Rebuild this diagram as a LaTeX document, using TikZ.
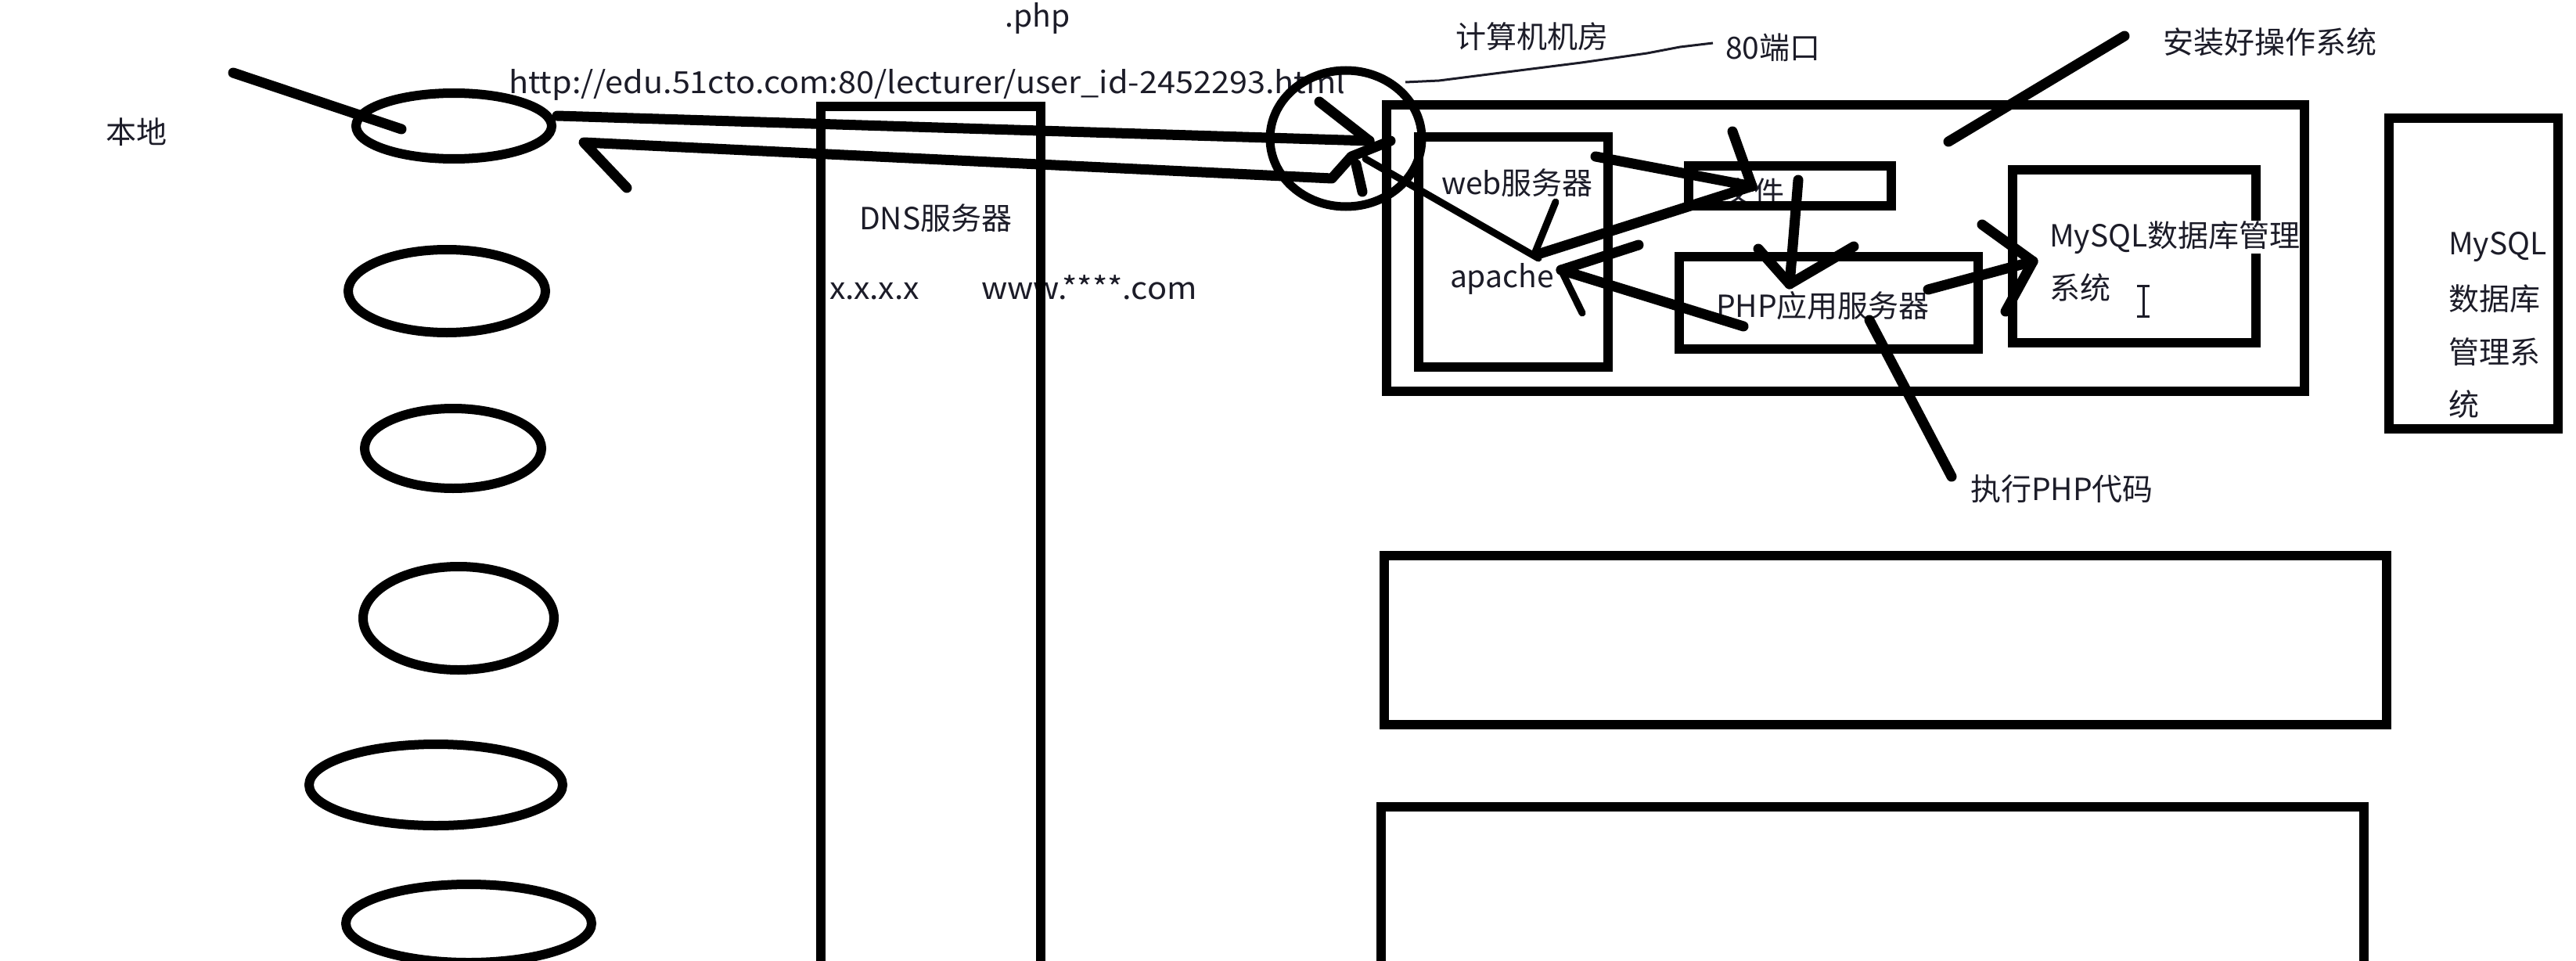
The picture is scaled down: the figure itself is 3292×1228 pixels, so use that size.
\documentclass[tikz,border=0pt]{standalone}
\usepackage{fontspec}
\setmainfont{Noto Sans CJK SC}
\usetikzlibrary{shapes.geometric}
\definecolor{txt}{HTML}{1C1C28}
\begin{document}
\begin{tikzpicture}[x=1pt,y=-1pt,
  box/.style={draw, line width=12pt, rectangle, inner sep=0pt, outer sep=0pt},
  oval/.style={draw, line width=12pt, ellipse, inner sep=0pt, outer sep=0pt},
  stroke/.style={line width=13pt, line cap=round, line join=round},
  slim/.style={line width=9pt, line cap=round, line join=round},
  hair/.style={line width=3pt, color=txt},
  lbl/.style={anchor=base west, inner sep=0pt, outer sep=0pt, font=\fontsize{39}{47}\selectfont, text=txt},
]
\useasboundingbox (0,0) rectangle (3292,1228);
\fill[white] (0,0) rectangle (3292,1228);
\clip (0,0) rectangle (3292,1228);

% ---------- texts ----------
\node[lbl] (tlocal) at (135,183) {本地};
\node[lbl, anchor=base] (tphp) at (1326,35) {.php};
\node[lbl] (turl) at (650,120) {\scalebox{1.062}[1]{http://edu.51cto.com:80/lecturer/user\_id-2452293.html}};
\node[lbl] (tdns) at (1098,293) {DNS服务器};
\node[lbl] (tip) at (1060,382) {\scalebox{1.05}[1]{x.x.x.x}};
\node[lbl] (twww) at (1254,382) {\scalebox{1.065}[1]{www.****.com}};
\node[lbl] (troom) at (1860,62) {计算机机房};
\node[lbl] (tport) at (2205,76) {80端口};
\node[lbl] (tos) at (2764,69) {安装好操作系统};
\node[lbl] (tweb) at (1842,248) {web服务器};
\node[lbl] (tapache) at (1853,367) {apache};
\node[lbl] (tfile) at (2202,260) {文件};
\node[lbl] (tphpsrv) at (2193,405) {PHP应用服务器};
\node[lbl] (tmysql2) at (2619,382) {系统};
\node[lbl] (tR1) at (3129,325) {MySQL};
\node[lbl] (tR2) at (3129,396) {数据库};
\node[lbl] (tR3) at (3129,464) {管理系};
\node[lbl] (tR4) at (3129,531) {统};
\node[lbl] (texec) at (2518,639) {执行PHP代码};

% ---------- client ellipses ----------
\node[oval, minimum width=250pt, minimum height=84pt]  (c1) at (580,161) {};
\node[oval, minimum width=252pt, minimum height=106pt] (c2) at (571,372) {};
\node[oval, minimum width=226pt, minimum height=102pt] (c3) at (579,573) {};
\node[oval, minimum width=244pt, minimum height=132pt] (c4) at (586,790) {};
\node[oval, minimum width=324pt, minimum height=104pt] (c5) at (557,1003) {};
\node[oval, minimum width=314pt, minimum height=100pt] (c6) at (599,1180) {};

% ---------- DNS server (open at bottom) ----------
\coordinate (dnsBL) at (1049,1260);
\coordinate (dnsTL) at (1049,136);
\coordinate (dnsTR) at (1330,136);
\coordinate (dnsBR) at (1330,1260);
\draw[line width=12pt] (dnsBL) -- (dnsTL) -- (dnsTR) -- (dnsBR);

% ---------- server room ----------
\node[box, minimum width=1173pt, minimum height=366pt] (room) at (2358.5,317) {};
\node[box, minimum width=242pt, minimum height=294pt] (web) at (1934,322) {};
\node[box, minimum width=259pt, minimum height=51pt] (file) at (2287.5,237.5) {};
\node[box, minimum width=382pt, minimum height=118pt] (phpsrv) at (2337,387) {};
\node[box, minimum width=311pt, minimum height=221pt] (mysql) at (2727.5,327.5) {};
\node[lbl, fill=white] (tmysql) at (2619,315) {MySQL数据库管理};
\node[box, minimum width=216pt, minimum height=397pt] (mysqlR) at (3161,349.5) {};
\node[box, minimum width=1281pt, minimum height=216pt] (boxA) at (2409.5,818) {};
\coordinate (bBL) at (1765,1260);
\coordinate (bTL) at (1765,1031);
\coordinate (bTR) at (3021,1031);
\coordinate (bBR) at (3021,1260);
\draw[line width=12pt] (bBL) -- (bTL) -- (bTR) -- (bBR);

% ---------- port 80 circle ----------
\node[draw, line width=11pt, ellipse, inner sep=0pt, minimum width=194pt, minimum height=174pt] (port) at (1720,177) {};

% ---------- hand strokes ----------
\coordinate (locA) at (298,93);   \coordinate (locB) at (513,165);
\draw[stroke] (locA) -- (locB);

\coordinate (reqS) at (712,148); \coordinate (reqT) at (1750,180); \coordinate (reqB) at (1686,130);
\draw[stroke] (reqS) -- (reqT);
\draw[stroke] (reqB) -- (reqT);

\coordinate (resB) at (801,240); \coordinate (resT) at (746,182);
\coordinate (resK1) at (1702,228); \coordinate (resK2) at (1727,200); \coordinate (resE) at (1777,180);
\draw[stroke] (resB) -- (resT) -- (resK1) -- (resK2) -- (resE);
\coordinate (shA) at (1733,210); \coordinate (shB) at (1741,245);
\draw[stroke] (shA) -- (shB);

\coordinate (dgA) at (1745,203); \coordinate (dgB) at (1966,330);
\draw[slim] (dgA) -- (dgB);

\coordinate (wfS) at (2039,200); \coordinate (wfT) at (2239,238); \coordinate (wfB) at (2214,168);
\coordinate (faT) at (1965,325);
\draw[stroke] (wfS) -- (wfT);
\draw[stroke] (wfB) -- (wfT);
\draw[stroke] (faT) -- (wfT);
\coordinate (apA) at (1988,258); \coordinate (apB) at (1962,322);
\draw[slim] (apA) -- (apB);

\coordinate (paS) at (2228,417); \coordinate (paT) at (1995,345);
\coordinate (paB1) at (2094,313); \coordinate (paB2) at (2022,400);
\draw[stroke] (paS) -- (paT);
\draw[stroke] (paB1) -- (paT);
\draw[slim] (paB2) -- (paT);

\coordinate (fpS) at (2298,230); \coordinate (fpT) at (2287,363);
\coordinate (fpB1) at (2247,318); \coordinate (fpB2) at (2369,315);
\draw[stroke] (fpS) -- (fpT);
\draw[stroke] (fpB1) -- (fpT) -- (fpB2);

\coordinate (pmS) at (2464,370); \coordinate (pmT) at (2598,334);
\coordinate (pmB1) at (2533,287); \coordinate (pmB2) at (2563,398);
\draw[stroke] (pmS) -- (pmT);
\draw[stroke] (pmB1) -- (pmT) -- (pmB2);

\coordinate (exA) at (2389,409); \coordinate (exB) at (2494,609);
\draw[stroke] (exA) -- (exB);

\coordinate (osA) at (2715,46); \coordinate (osB) at (2490,181);
\draw[stroke] (osA) -- (osB);

% thin callout to 80端口
\coordinate (pt0) at (1796,105);
\coordinate (pt6) at (2189,55);
\draw[hair] (pt0) -- (1839,103) -- (1902,95) -- (2021,80) -- (2105,68) -- (2147,60) -- (pt6);

% text cursor
\coordinate (ibT) at (2739,365); \coordinate (ibB) at (2739,404);
\draw[hair] (2731,365) -- (2747,365);
\draw[hair] (ibT) -- (ibB);
\draw[hair] (2731,404) -- (2747,404);
\end{tikzpicture}
\end{document}
